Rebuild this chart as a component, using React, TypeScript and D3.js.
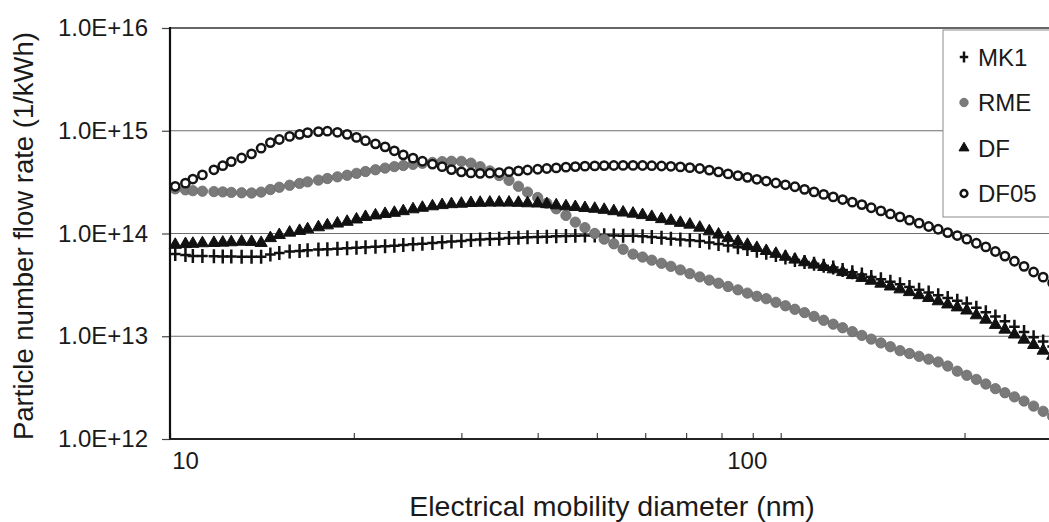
import React, { useEffect, useRef } from 'react'
import * as d3 from 'd3'

// SMPS channel mid-point diameters (nm)
const diameters = [
  10.2, 10.6, 10.9, 11.3, 11.8, 12.2, 12.6, 13.1, 13.6, 14.1,
  14.6, 15.1, 15.7, 16.3, 16.8, 17.5, 18.1, 18.8, 19.5, 20.2,
  20.9, 21.7, 22.5, 23.3, 24.1, 25.0, 25.9, 26.9, 27.9, 28.9,
  30.0, 31.1, 32.2, 33.4, 34.6, 35.9, 37.2, 38.5, 40.0, 41.4,
  42.9, 44.5, 46.1, 47.8, 49.6, 51.4, 53.3, 55.2, 57.3, 59.4,
  61.5, 63.8, 66.1, 68.5, 71.0, 73.7, 76.4, 79.1, 82.0, 85.1,
  88.2, 91.4, 94.7, 98.2, 101.8, 105.5, 109.4, 113.4, 117.6, 121.9,
  126.3, 131.0, 135.8, 140.7, 145.9, 151.2, 156.8, 162.5, 168.5, 174.7,
  181.1, 187.7, 194.6, 201.7, 209.1, 216.7, 224.7, 232.9, 241.4, 250.3,
  259.5, 269.0, 278.8,
]

const mk1 = [
  6.31e13, 6.17e13, 6.05e13, 6.03e13, 6.0e13, 5.97e13, 5.96e13, 5.94e13, 5.93e13, 5.93e13,
  6.24e13, 6.46e13, 6.68e13, 6.76e13, 6.87e13, 6.97e13, 7.01e13, 7.11e13, 7.19e13, 7.28e13,
  7.36e13, 7.45e13, 7.52e13, 7.6e13, 7.73e13, 7.85e13, 7.96e13, 8.09e13, 8.22e13, 8.34e13,
  8.47e13, 8.63e13, 8.73e13, 8.83e13, 8.91e13, 9.02e13, 9.1e13, 9.18e13, 9.25e13, 9.31e13,
  9.38e13, 9.44e13, 9.51e13, 9.55e13, 9.57e13, 9.59e13, 9.57e13, 9.53e13, 9.49e13, 9.42e13,
  9.27e13, 9.08e13, 8.91e13, 8.75e13, 8.61e13, 8.45e13, 8.18e13, 7.91e13, 7.64e13, 7.35e13,
  7.06e13, 6.78e13, 6.5e13, 6.17e13, 5.83e13, 5.52e13, 5.28e13, 5.07e13, 4.86e13, 4.66e13,
  4.42e13, 4.2e13, 3.98e13, 3.78e13, 3.59e13, 3.4e13, 3.21e13, 3.02e13, 2.84e13, 2.66e13,
  2.5e13, 2.35e13, 2.21e13, 2.08e13, 1.89e13, 1.71e13, 1.56e13, 1.4e13, 1.24e13, 1.1e13,
  9.77e12, 8.91e12, 7.94e12,
]

const rme = [
  2.72e14, 2.66e14, 2.61e14, 2.58e14, 2.56e14, 2.54e14, 2.51e14, 2.49e14, 2.48e14, 2.53e14,
  2.68e14, 2.82e14, 2.95e14, 3.07e14, 3.18e14, 3.31e14, 3.43e14, 3.56e14, 3.69e14, 3.85e14,
  4.01e14, 4.17e14, 4.33e14, 4.48e14, 4.59e14, 4.71e14, 4.82e14, 4.92e14, 5.01e14, 5.05e14,
  5.04e14, 4.84e14, 4.47e14, 4.07e14, 3.67e14, 3.29e14, 2.88e14, 2.53e14, 2.24e14, 1.97e14,
  1.74e14, 1.5e14, 1.29e14, 1.14e14, 1.0e14, 8.81e13, 7.94e13, 7.03e13, 6.3e13, 5.9e13,
  5.5e13, 5.13e13, 4.79e13, 4.42e13, 4.07e13, 3.78e13, 3.52e13, 3.28e13, 3.05e13, 2.83e13,
  2.63e13, 2.45e13, 2.32e13, 2.14e13, 1.98e13, 1.83e13, 1.7e13, 1.56e13, 1.43e13, 1.31e13,
  1.21e13, 1.11e13, 1.02e13, 9.38e12, 8.61e12, 7.91e12, 7.24e12, 6.79e12, 6.38e12, 5.98e12,
  5.62e12, 5.13e12, 4.57e12, 4.17e12, 3.8e12, 3.43e12, 3.09e12, 2.82e12, 2.57e12, 2.34e12,
  2.09e12, 1.86e12, 1.66e12,
]

const df = [
  7.76e13, 7.89e13, 7.94e13, 8.04e13, 8.09e13, 8.15e13, 8.22e13, 8.32e13, 8.28e13, 8.09e13,
  9.02e13, 9.66e13, 1.02e14, 1.06e14, 1.1e14, 1.15e14, 1.2e14, 1.25e14, 1.3e14, 1.37e14,
  1.45e14, 1.5e14, 1.55e14, 1.59e14, 1.65e14, 1.72e14, 1.78e14, 1.84e14, 1.89e14, 1.93e14,
  1.95e14, 1.98e14, 1.99e14, 2.0e14, 2.0e14, 2.0e14, 1.99e14, 1.97e14, 1.96e14, 1.93e14,
  1.88e14, 1.84e14, 1.81e14, 1.77e14, 1.74e14, 1.7e14, 1.65e14, 1.6e14, 1.56e14, 1.51e14,
  1.45e14, 1.38e14, 1.33e14, 1.27e14, 1.22e14, 1.14e14, 1.05e14, 9.77e13, 9.02e13, 8.32e13,
  7.76e13, 7.24e13, 6.76e13, 6.34e13, 5.94e13, 5.57e13, 5.25e13, 4.98e13, 4.72e13, 4.48e13,
  4.21e13, 3.94e13, 3.7e13, 3.47e13, 3.25e13, 3.05e13, 2.86e13, 2.69e13, 2.51e13, 2.36e13,
  2.19e13, 2.04e13, 1.91e13, 1.78e13, 1.6e13, 1.45e13, 1.29e13, 1.16e13, 1.04e13, 9.27e12,
  8.22e12, 7.24e12, 6.46e12,
]

const df05 = [
  2.88e14, 3.09e14, 3.39e14, 3.72e14, 4.17e14, 4.57e14, 5.01e14, 5.43e14, 5.96e14, 6.76e14,
  7.67e14, 8.22e14, 8.81e14, 9.23e14, 9.59e14, 9.82e14, 9.9e14, 9.66e14, 9.23e14, 8.61e14,
  8.0e14, 7.46e14, 6.97e14, 6.38e14, 5.83e14, 5.41e14, 5.05e14, 4.74e14, 4.47e14, 4.19e14,
  3.98e14, 3.89e14, 3.85e14, 3.86e14, 3.92e14, 4.0e14, 4.07e14, 4.15e14, 4.22e14, 4.29e14,
  4.35e14, 4.42e14, 4.48e14, 4.52e14, 4.55e14, 4.58e14, 4.59e14, 4.6e14, 4.6e14, 4.59e14,
  4.57e14, 4.54e14, 4.51e14, 4.45e14, 4.37e14, 4.29e14, 4.14e14, 3.98e14, 3.8e14, 3.66e14,
  3.52e14, 3.37e14, 3.24e14, 3.1e14, 2.98e14, 2.85e14, 2.69e14, 2.54e14, 2.4e14, 2.27e14,
  2.14e14, 2.02e14, 1.91e14, 1.78e14, 1.66e14, 1.55e14, 1.45e14, 1.35e14, 1.26e14, 1.17e14,
  1.1e14, 1.02e14, 9.55e13, 8.81e13, 8.04e13, 7.41e13, 6.68e13, 6.03e13, 5.37e13, 4.79e13,
  4.22e13, 3.76e13, 3.31e13,
]

const seriesNames = ['MK1', 'RME', 'DF', 'DF05']
const yTickValues = [1e12, 1e13, 1e14, 1e15, 1e16]
const xTickValues = [10, 20, 30, 40, 50, 60, 70, 80, 90, 100, 200]
const xLabelValues = [10, 100]

const W = 1049
const H = 522
const FONT = '"Liberation Sans", Arial, Helvetica, sans-serif'

// marker path for each series kind, s = scale
function markerPath(kind: string, s: number) {
  if (kind === 'plus') return `M${-5.3 * s},0H${5.3 * s}M0,${-7 * s}V${7 * s}`
  if (kind === 'tri') return d3.symbol().type(d3.symbolTriangle).size(64 * s * s)() as string
  if (kind === 'dot') return d3.symbol().type(d3.symbolCircle).size(84 * s * s)() as string
  return d3.symbol().type(d3.symbolCircle).size(54 * s * s)() as string
}

function styleMarker(sel: any, kind: string) {
  if (kind === 'plus') {
    sel.attr('fill', 'none').attr('stroke', '#111').attr('stroke-width', 2.5)
  } else if (kind === 'tri') {
    sel.attr('fill', '#111').attr('stroke', '#111').attr('stroke-width', 1)
  } else if (kind === 'dot') {
    sel.attr('fill', '#7a7a7a').attr('stroke', '#6a6a6a').attr('stroke-width', 0.8)
  } else {
    sel.attr('fill', '#fff').attr('stroke', '#151515').attr('stroke-width', 2.5)
  }
}

export default function App() {
  const ref = useRef<SVGSVGElement>(null)

  useEffect(() => {
    const svg = d3.select(ref.current)
    svg.selectAll('*').remove()

    const x = d3.scaleLog().domain([10, 275]).range([170, 1049])
    const y = d3.scaleLog().domain([1e12, 1e16]).range([439, 28])

    // horizontal gridlines
    svg.append('g').selectAll('line')
      .data(yTickValues.slice(1))
      .enter().append('line')
      .attr('x1', 170).attr('x2', W)
      .attr('y1', d => y(d)).attr('y2', d => y(d))
      .attr('stroke', d => (d === 1e16 ? '#333' : '#6e6e6e'))
      .attr('stroke-width', d => (d === 1e16 ? 1.6 : 1.2))

    const series = [
      { name: seriesNames[0], values: mk1, kind: 'plus' },
      { name: seriesNames[1], values: rme, kind: 'dot' },
      { name: seriesNames[2], values: df, kind: 'tri' },
      { name: seriesNames[3], values: df05, kind: 'ring' },
    ]

    series.forEach(s => {
      const pts = diameters.map((d, i) => [d, s.values[i]])
      const sel = svg.append('g').attr('class', 'series-' + s.name)
        .selectAll('path').data(pts).enter().append('path')
        .attr('d', markerPath(s.kind, 1))
        .attr('transform', d => `translate(${x(d[0])},${y(d[1])})`)
      styleMarker(sel, s.kind)
    })

    // y axis
    const yAxis = d3.axisLeft(y)
      .tickValues(yTickValues)
      .tickSizeInner(8).tickSizeOuter(0).tickPadding(14)
      .tickFormat(d => '1.0E+' + Math.round(Math.log10(d as number)))
    const gy = svg.append('g').attr('transform', 'translate(170,0)').call(yAxis)
    gy.select('.domain').remove()
    gy.selectAll('line').attr('stroke', '#444').attr('stroke-width', 1.2)
    gy.selectAll('text').attr('font-family', FONT).attr('font-size', 24).attr('fill', '#1a1a1a')

    // x axis minor/major ticks (inside)
    const xAxis = d3.axisBottom(x)
      .tickValues(xTickValues)
      .tickSizeInner(-6).tickSizeOuter(0)
      .tickFormat(() => '')
    const gx = svg.append('g').attr('transform', 'translate(0,439)').call(xAxis)
    gx.select('.domain').remove()
    gx.selectAll('line').attr('stroke', '#444').attr('stroke-width', 1.2)

    // x labels
    const xLab = d3.axisBottom(x)
      .tickValues(xLabelValues)
      .tickSize(0).tickPadding(13)
      .tickFormat(d => String(d))
    const gl = svg.append('g').attr('transform', 'translate(0,439)').call(xLab)
    gl.select('.domain').remove()
    gl.selectAll('text')
      .attr('font-family', FONT).attr('font-size', 24).attr('fill', '#1a1a1a')
      .attr('dx', (d: any) => (d === 10 ? 15 : -34))

    // axis lines
    svg.append('line').attr('x1', 170).attr('x2', 170).attr('y1', 27).attr('y2', 440)
      .attr('stroke', '#111').attr('stroke-width', 2.2)
    svg.append('line').attr('x1', 169).attr('x2', W).attr('y1', 439).attr('y2', 439)
      .attr('stroke', '#222').attr('stroke-width', 2)

    // legend
    const lg = svg.append('g')
    lg.append('rect').attr('x', 943).attr('y', 30).attr('width', 120).attr('height', 187)
      .attr('fill', '#fff').attr('stroke', '#8c8c8c').attr('stroke-width', 1)
    series.forEach((s, i) => {
      const cy = 57 + i * 45.5
      const m = lg.append('path')
        .attr('d', markerPath(s.kind, s.kind === 'plus' ? 0.8 : 0.82))
        .attr('transform', `translate(964,${cy})`)
      styleMarker(m, s.kind)
      lg.append('text').attr('x', 978).attr('y', cy + 8.5)
        .attr('font-family', FONT).attr('font-size', 24).attr('fill', '#1a1a1a')
        .text(s.name)
    })

    // axis titles
    svg.append('text')
      .attr('transform', 'translate(33,236) rotate(-90)')
      .attr('text-anchor', 'middle')
      .attr('font-family', FONT).attr('font-size', 27.5).attr('fill', '#1a1a1a')
      .text('Particle number flow rate (1/kWh)')
    svg.append('text')
      .attr('x', 612).attr('y', 516)
      .attr('text-anchor', 'middle')
      .attr('font-family', FONT).attr('font-size', 28.5).attr('fill', '#1a1a1a')
      .text('Electrical mobility diameter (nm)')
  }, [])

  return (
    <div style={{ position: 'absolute', left: 0, top: 0, width: W, height: H, background: '#fff' }}>
      <svg ref={ref} width={W} height={H} style={{ display: 'block' }} />
    </div>
  )
}
